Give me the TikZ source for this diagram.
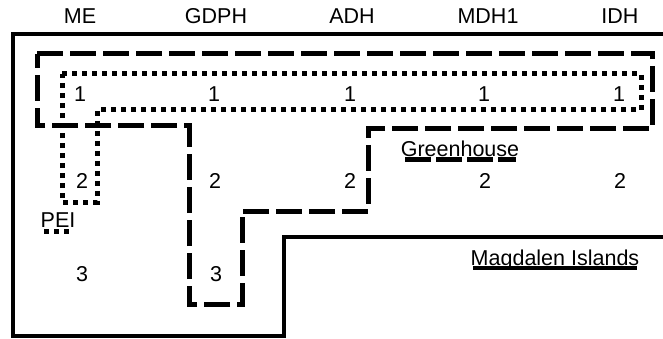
\documentclass[tikz,border=0pt]{standalone}
\usepackage{fontspec}
\setmainfont{Liberation Sans}
\begin{document}
\begin{tikzpicture}[x=1pt,y=-1pt,
  lbl/.style={anchor=base,inner sep=0pt,font=\fontsize{21.5}{25}\selectfont},
  solidline/.style={line width=4.5pt,miter limit=10},
  dashline/.style={line width=5pt,dash pattern=on 26pt off 7pt,miter limit=10},
  dotline/.style={line width=5pt,dash pattern=on 5pt off 5pt,miter limit=10}]
\useasboundingbox (0,0) rectangle (663,339);
% outer solid region
\draw[solidline] (663,34) -- (13,34) -- (13,336) -- (284,336) -- (284,237) -- (663,237);
% dashed region
\draw[dashline] (37,54) -- (652,54) -- (652,129) -- (368,129) -- (368,211) -- (242,211)
  -- (242,304) -- (189,304) -- (189,126) -- (37,126) -- cycle;
% dotted region
\draw[dotline] (62,74) -- (641,74) -- (641,110) -- (97,110) -- (97,202) -- (62,202) -- cycle;
% column headers
\node[lbl] (hME) at (80,24) {ME};
\node[lbl] (hGDPH) at (216,24) {GDPH};
\node[lbl] (hADH) at (352,24) {ADH};
\node[lbl] (hMDH) at (488,24) {MDH1};
\node[lbl] (hIDH) at (620,24) {IDH};
% row 1
\node[lbl] (a1) at (80,102) {1};
\node[lbl] (b1) at (214,102) {1};
\node[lbl] (c1) at (350,102) {1};
\node[lbl] (d1) at (484,102) {1};
\node[lbl] (e1) at (619,102) {1};
% row 2
\node[lbl] (a2) at (82,188) {2};
\node[lbl] (b2) at (215,188) {2};
\node[lbl] (c2) at (350,188) {2};
\node[lbl] (d2) at (485,188) {2};
\node[lbl] (e2) at (620,188) {2};
% row 3
\node[lbl] (a3) at (82,281) {3};
\node[lbl] (b3) at (216,281) {3};
% region labels
\node[lbl] (pei) at (58,227) {PEI};
\draw[dotline] (44,231) -- (71,231);
\node[lbl] (gh) at (460,157) {Greenhouse};
\draw[line width=5pt,dash pattern=on 26pt off 5pt] (405,160) -- (516,160);
\node[lbl] (mi) at (555,265) {Magdalen Islands};
\draw[solidline] (473,268) -- (637,268);
\end{tikzpicture}
\end{document}
